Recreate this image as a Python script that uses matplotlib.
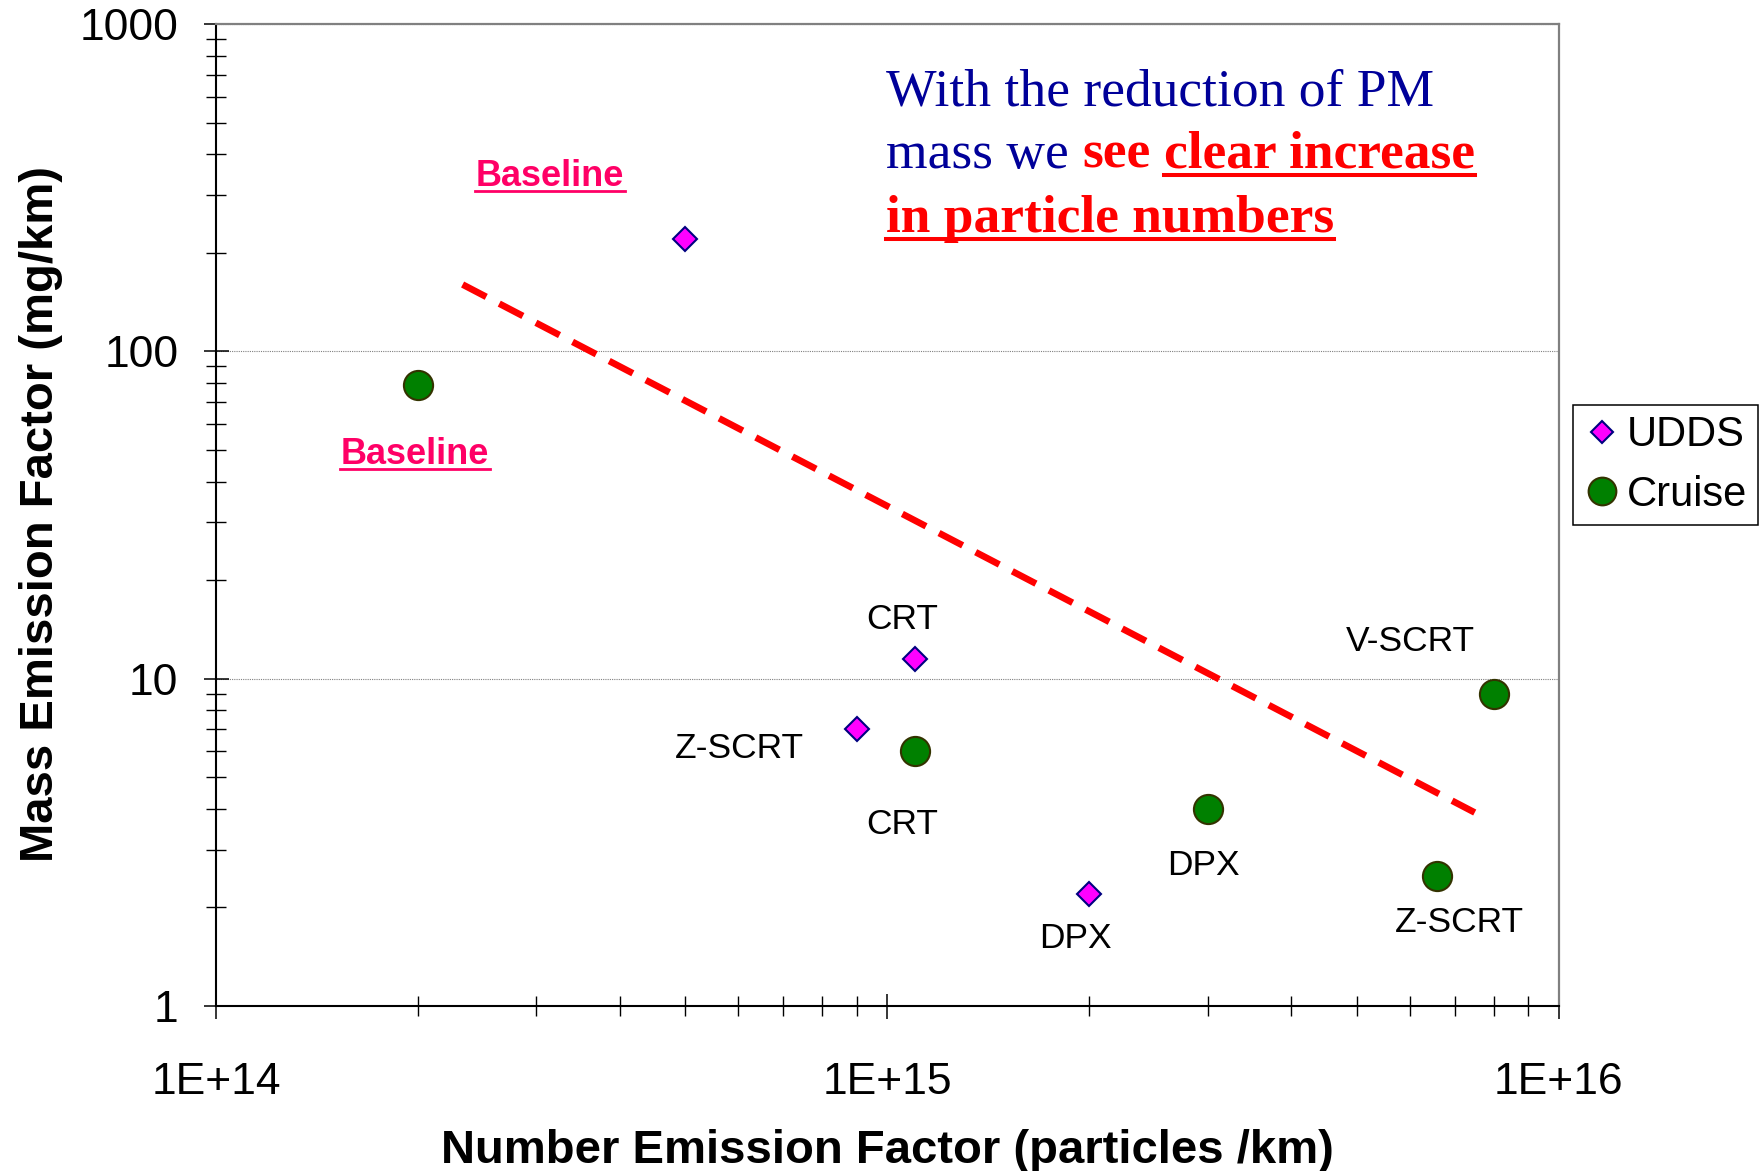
import math
import matplotlib
matplotlib.use("Agg")
import matplotlib.pyplot as plt
from matplotlib.lines import Line2D
from matplotlib.ticker import LogLocator, FuncFormatter, NullFormatter

plt.rcParams['font.family'] = ['Liberation Sans', 'DejaVu Sans']

# UDDS cycle results
udds_labels = ['Baseline', 'CRT', 'Z-SCRT', 'DPX']
udds_number = [5.0e14, 1.1e15, 9.0e14, 2.0e15]
udds_mass = [220, 11.5, 7.0, 2.2]

# Cruise results
cruise_labels = ['Baseline', 'CRT', 'DPX', 'Z-SCRT', 'V-SCRT']
cruise_number = [2.0e14, 1.1e15, 3.0e15, 6.6e15, 8.0e15]
cruise_mass = [79, 6.0, 4.0, 2.5, 9.0]

# trend line end points
trend_number = [2.33e14, 7.5e15]
trend_mass = [160, 3.9]

# label offsets from each point, in pixels (dx, dy)
udds_offsets = [(-135, 53), (-13, 30), (-117, -29), (-14, -54)]
cruise_offsets = [(-3, -79), (-13, -83), (-4, -66), (22, -56), (-83, 43)]

W, H = 1762, 1171
fig = plt.figure(figsize=(W / 100, H / 100), dpi=100)
ax = fig.add_axes([216 / W, 1 - 1006 / H, (1558.6 - 216) / W, (1006 - 24) / H])

ax.set_xscale('log')
ax.set_yscale('log')
ax.set_xlim(1e14, 1e16)
ax.set_ylim(1, 1000)

ax.plot(trend_number, trend_mass, color='red', lw=4.8,
        linestyle=(0, (4, 2.2)), zorder=2)

ax.plot(udds_number, udds_mass, linestyle='none', marker='D', ms=12,
        mfc='#FF00FF', mec='#000080', mew=1.5, label='UDDS', zorder=3)
ax.plot(cruise_number, cruise_mass, linestyle='none', marker='o', ms=21,
        mfc='#008000', mec='#333300', mew=1.5, label='Cruise', zorder=3)

# grid and spines
ax.yaxis.grid(True, which='major', color='#808080', linestyle=(0, (1, 1)), lw=0.8)
ax.set_axisbelow(True)
for side in ['top', 'right']:
    ax.spines[side].set_color('#808080')
    ax.spines[side].set_linewidth(1.6)
for side in ['left', 'bottom']:
    ax.spines[side].set_color('black')
    ax.spines[side].set_linewidth(1.5)

ax.xaxis.set_major_locator(LogLocator(base=10, numticks=5))
ax.xaxis.set_minor_locator(LogLocator(base=10, subs=range(2, 10), numticks=20))
ax.yaxis.set_major_locator(LogLocator(base=10, numticks=5))
ax.yaxis.set_minor_locator(LogLocator(base=10, subs=range(2, 10), numticks=20))
ax.xaxis.set_major_formatter(FuncFormatter(lambda v, p: '1E+%d' % round(math.log10(v))))
ax.yaxis.set_major_formatter(FuncFormatter(lambda v, p: '%d' % round(v)))
ax.xaxis.set_minor_formatter(NullFormatter())
ax.yaxis.set_minor_formatter(NullFormatter())

ax.tick_params(which='major', direction='inout', length=18, width=1.1, labelsize=32)
ax.tick_params(which='minor', direction='inout', length=15, width=1.0)
ax.tick_params(axis='x', which='major', pad=31)
ax.tick_params(axis='y', which='major', pad=18)

ax.set_xlabel('Number Emission Factor (particles /km)', fontsize=34, fontweight='bold')
ax.xaxis.set_label_coords(0.5, -0.125)
ax.set_ylabel('Mass Emission Factor (mg/km)', fontsize=34, fontweight='bold')
ax.yaxis.set_label_coords(-0.130, 0.501)
ax.yaxis.label.set_va('center')

# point labels
baseline_color = '#FF0066'
labels_drawn = []
for xs, ys, names, offs in [(udds_number, udds_mass, udds_labels, udds_offsets),
                            (cruise_number, cruise_mass, cruise_labels, cruise_offsets)]:
    for xv, yv, name, (dx, dy) in zip(xs, ys, names, offs):
        if name == 'Baseline':
            t = ax.annotate(name, (xv, yv), xytext=(dx, dy), textcoords='offset pixels',
                            ha='center', va='baseline', fontsize=26,
                            fontweight='bold', color=baseline_color)
            labels_drawn.append((t, xv, yv, dy))
        else:
            ax.annotate(name, (xv, yv), xytext=(dx, dy), textcoords='offset pixels',
                        ha='center', va='baseline', fontsize=25.5, color='black')

leg = ax.legend(loc='upper left', bbox_to_anchor=(1573 / W, 1 - 405 / H),
                bbox_transform=fig.transFigure, borderaxespad=0, fontsize=30,
                frameon=True, fancybox=False, framealpha=1, edgecolor='black',
                borderpad=0.25, handlelength=0.9, handletextpad=0.15,
                labelspacing=0.46, numpoints=1, markerscale=0.95)
leg.get_frame().set_linewidth(1.1)

# comment text, built piece by piece
serif = ['Liberation Serif', 'DejaVu Serif']
blue = '#000099'
red = '#FF0000'
fs = 38.5
text_left = 886
lines = [
    (105, [("With the reduction of PM", blue, 'normal', False)]),
    (168, [("mass we", blue, 'normal', False),
           ("see", red, 'bold', False),
           ("clear increase", red, 'bold', True)]),
    (232, [("in particle numbers", red, 'bold', True)]),
]

fig.canvas.draw()
renderer = fig.canvas.get_renderer()
space = 0.25 * fs * 100 / 72

for base_y, pieces in lines:
    x = text_left
    for s, col, weight, under in pieces:
        t = fig.text(x / W, 1 - base_y / H, s, family=serif, fontsize=fs,
                     color=col, fontweight=weight, ha='left', va='baseline')
        bb = t.get_window_extent(renderer)
        if under:
            uy = H - base_y - 7
            fig.add_artist(Line2D([bb.x0 / W, bb.x1 / W], [uy / H, uy / H],
                                  transform=fig.transFigure, color=col, lw=2.9))
        x = bb.x1 + space

# underline the Baseline labels
for t, xv, yv, dy in labels_drawn:
    bb = t.get_window_extent(renderer)
    py = ax.transData.transform((xv, yv))[1] + dy - 5
    fig.add_artist(Line2D([(bb.x0 - 1) / W, (bb.x1 + 1) / W], [py / H, py / H],
                          transform=fig.transFigure, color=baseline_color, lw=2.0))

fig.savefig('out.png', dpi=100)
